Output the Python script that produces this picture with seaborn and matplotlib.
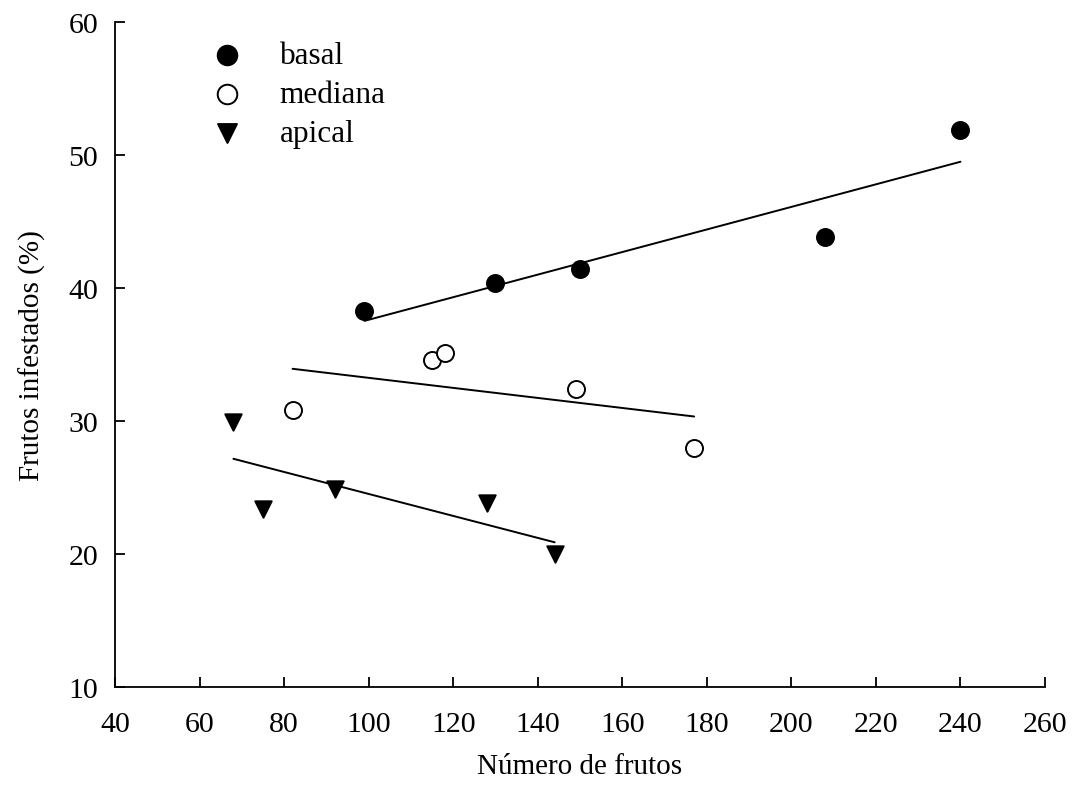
import numpy as np
import pandas as pd
import matplotlib
matplotlib.use("Agg")
import matplotlib.pyplot as plt
import seaborn as sns

# values
basal_x = [99, 130, 150, 208, 240]
basal_y = [38.3, 40.4, 41.4, 43.8, 51.9]
mediana_x = [82, 115, 118, 149, 177]
mediana_y = [30.8, 34.6, 35.1, 32.4, 28.0]
apical_x = [68, 75, 92, 128, 144]
apical_y = [29.9, 23.4, 24.9, 23.8, 20.0]

x_ticks = list(range(40, 261, 20))
y_ticks = list(range(10, 61, 10))

sns.set_style("ticks")
plt.rcParams['font.family'] = ['Liberation Serif', 'DejaVu Serif']
plt.rcParams['text.color'] = 'black'
plt.rcParams['axes.labelcolor'] = 'black'
plt.rcParams['xtick.color'] = 'black'
plt.rcParams['ytick.color'] = 'black'

fig = plt.figure(figsize=(10.73, 8.03), dpi=100)
ax = fig.add_axes([0.1072, 0.1432, 0.8667, 0.8282])

groups = [
    ("basal", basal_x, basal_y, "o", "black"),
    ("mediana", mediana_x, mediana_y, "o", "white"),
    ("apical", apical_x, apical_y, "v", "black"),
]

for name, xs, ys, mk, fc in groups:
    df = pd.DataFrame({"x": xs, "y": ys})
    # least-squares line over the data range, as in the original figure
    sns.regplot(data=df, x="x", y="y", scatter=False, ci=None, truncate=True,
                ax=ax, line_kws={"color": "black", "linewidth": 1.4})
    sns.scatterplot(data=df, x="x", y="y", marker=mk, s=150 if mk == "o" else 140,
                    facecolor=fc, edgecolor="black", linewidth=1.4, ax=ax,
                    label=name, zorder=3)

ax.set_xlim(40, 260)
ax.set_ylim(10, 60)
ax.set_xticks(x_ticks)
ax.set_yticks(y_ticks)
ax.tick_params(direction="in", length=7, width=1.3, labelsize=21.5)
ax.tick_params(axis="x", pad=17)
ax.tick_params(axis="y", pad=12)
for s in ["left", "bottom"]:
    ax.spines[s].set_linewidth(1.3)
    ax.spines[s].set_color("black")
sns.despine(ax=ax)

ax.set_xlabel("Número de frutos", fontsize=21, labelpad=12)
ax.set_ylabel("Frutos infestados (%)", fontsize=21, labelpad=16)

ax.legend(loc="upper left", bbox_to_anchor=(0.073, 0.99), frameon=False,
          fontsize=22.5, handletextpad=0.7, labelspacing=0.32, markerscale=1.15,
          borderaxespad=0)

fig.savefig("out.png", dpi=100)
